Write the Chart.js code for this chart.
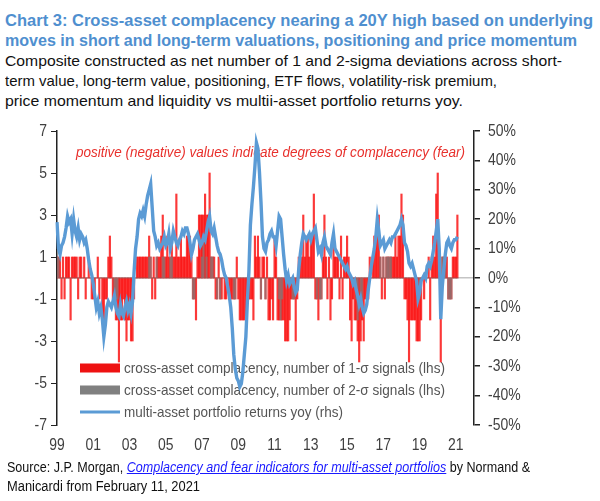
<!DOCTYPE html>
<html>
<head>
<meta charset="utf-8">
<script src="https://cdn.jsdelivr.net/npm/chart.js@4.4.0/dist/chart.umd.min.js"></script>
<style>
  body { margin: 0; background: #fff; width: 600px; height: 501px; overflow: hidden; position: relative;
         font-family: "Liberation Sans", Arial, sans-serif; }
  .ln { position: absolute; left: 5px; white-space: nowrap; transform-origin: 0 50%; }
  .t { color: #4f8fcf; font-weight: bold; font-size: 16px; line-height: 20px; }
  .s { color: #111; font-size: 15px; line-height: 20px; }
  .f { color: #111; font-size: 14px; line-height: 19px; left: 7px; }
  .f a { color: #1a1aff; font-style: italic; text-decoration: underline; }
  #wrap { position: absolute; left: 0; top: 120px; width: 600px; height: 340px; }
</style>
</head>
<body>
<div class="ln t" style="top:11px" data-w="588">Chart 3: Cross-asset complacency nearing a 20Y high based on underlying</div>
<div class="ln t" style="top:31px" data-w="572">moves in short and long-term valuations, positioning and price momentum</div>
<div class="ln s" style="top:51px" data-w="557">Composite constructed as net number of 1 and 2-sigma deviations across short-</div>
<div class="ln s" style="top:71px" data-w="492">term value, long-term value, positioning, ETF flows, volatility-risk premium,</div>
<div class="ln s" style="top:91px" data-w="458">price momentum and liquidity vs multii-asset portfolio returns yoy.</div>
<div id="wrap"><canvas id="c" width="600" height="340"></canvas></div>
<div class="ln f" style="top:458px" data-w="523">Source: J.P. Morgan, <a>Complacency and fear indicators for multi-asset portfolios</a> by Normand &amp;</div>
<div class="ln f" style="top:477px" data-w="193">Manicardi from February 11, 2021</div>
<script>
// monthly axis, Jan 1999 .. Jan 2022
const months = [];
for (let y = 1999; y <= 2022; y++) {
  for (let m = 1; m <= 12; m++) {
    if (y === 2022 && m > 1) break;
    months.push(y + '-' + String(m).padStart(2, '0'));
  }
}
const tickYears = ['1999', '2001', '2003', '2005', '2007', '2009', '2011', '2013', '2015', '2017', '2019', '2021'];
const lhsTicks = [-7, -5, -3, -1, 1, 3, 5, 7];
const rhsTicks = [-50, -40, -30, -20, -10, 0, 10, 20, 30, 40, 50];

// number of 1-sigma signals (lhs), monthly from Jan 1999
const sigma1 = [
  1, 1, 1, -1, 1, -1, 1, 1, 1, -2, 1, 1,        // 1999
  1, 1, -1, 1, 1, 0, 1, -1, 0, 1, 0, -1,        // 2000
  -1, -1, 0, 1, -1, 0, -2, -2, -1, -1, 1, 2,    // 2001
  1, -1, -1, -2, -2, -4, -2, -2, -1, -2, -3, -2, // 2002
  -2, -3, -3, -1, 0, 1, 1, 1, 1, 1, 1, 1,       // 2003
  1, 2, 1, -1, 1, -1, 1, 1, 1, 2, 3, 1,         // 2004
  1, 2, 1, 1, 2, 1, 1, 4, 1, 1, 2, 1,           // 2005
  1, 1, 2, 2, 2, 1, -1, -1, -2, 1, 3, 3,        // 2006
  3, 3, 4, 3, 3, 5, 1, 1, 1, -1, -1, 1,         // 2007
  -1, -1, 0, -1, -1, 0, -1, -1, -1, -1, -1, 1,  // 2008
  -1, -2, -2, -2, -2, -2, -1, -1, -1, -1, -2, 2, // 2009
  1, 2, 1, -1, 1, 1, -1, 1, -2, -2, -1, -2,     // 2010
  2, 1, -2, -2, -2, -2, -2, -3, -3, -3, -2, -1, // 2011
  -1, -1, -3, -1, 1, 1, 1, 3, 1, 2, 2, 1,       // 2012
  2, 2, 4, -1, -1, -2, -1, -1, 1, 3, 1, -1,     // 2013
  1, -2, -1, 2, 1, 1, 1, -1, 2, -1, 1, 1,       // 2014
  2, 1, -2, -3, -1, -2, -2, -3, -4, -3, -2, -3, // 2015
  -1, -1, -1, 1, 0, 1, 2, 2, 2, 3, 1, -1,       // 2016
  1, -1, 1, 1, 1, 1, 1, 1, 2, 1, 2, 2,          // 2017
  4, 3, -1, -1, -2, -4, -2, -2, -2, -2, -3, -3, // 2018
  -3, -2, 0, -1, 0, 0, 1, -2, 1, 2, 1, 4,       // 2019
  5, 1, -4, 1, 1, 1, 1, -1, -1, -1, 1, 1,       // 2020
  1, 3                                          // 2021
];

// number of 2-sigma signals (lhs)
const sigma2 = [
  1, 1, 0, 0, 0, 0, 0, 0, 0, 0, 0, 0,           // 1999
  0, 0, 0, 0, 0, 0, 0, 0, 0, 0, 0, 0,           // 2000
  0, 0, 0, 0, 0, 0, 0, 0, 0, 0, 0, 0,           // 2001
  0, 0, -1, -1, -1, 0, 0, 0, 0, 0, 0, 0,        // 2002
  0, 0, 0, 0, 0, 0, 0, 0, 0, 0, 0, 0,           // 2003
  0, 1, 1, 0, 0, 0, 1, 0, 0, 0, 1, 1,           // 2004
  0, 0, 0, 1, 1, 0, 0, 0, 0, 0, 0, 0,           // 2005
  0, 0, 0, 0, 0, 0, -1, -1, 0, 0, 0, 0,         // 2006
  1, 2, 0, 1, 0, 0, 1, 1, 0, 0, -1, 0,          // 2007
  -1, 0, 0, 0, 0, 0, 0, 0, 0, -1, -1, 0,        // 2008
  0, 0, 0, 0, 0, 0, 0, 0, 0, 0, 0, 0,           // 2009
  0, 0, 0, -1, 0, 0, -1, 0, 0, 0, 0, 0,         // 2010
  0, 0, 0, -1, -2, -1, 0, 0, 0, 0, 0, 0,        // 2011
  -1, -1, 0, 0, 0, 0, 0, 0, 0, 0, 0, 0,         // 2012
  0, 0, 0, 0, -1, 0, -1, -1, 0, 0, 0, 0,        // 2013
  0, 0, 0, 0, 0, 0, 0, 0, 0, 0, 0, 0,           // 2014
  0, 0, 0, 0, 0, 0, -1, -2, 0, -1, -1, 0,       // 2015
  0, 0, 0, 0, 0, 0, 0, 0, 0, 0, 1, 0,           // 2016
  1, 0, 1, 1, 1, 1, 0, 0, 0, 0, 0, 0,           // 2017
  0, 0, 0, 0, 0, 0, 0, 0, 0, 0, 0, 0,           // 2018
  -1, 0, 0, 0, 0, 0, 0, 0, 0, 0, 0, 0,          // 2019
  0, 0, 0, 1, 1, 1, 0, -1, -1, -1, 0, 0,        // 2020
  0, 0                                          // 2021
];

// multi-asset portfolio returns yoy, % (rhs)
const portRet = [
  19, 10, 8, 11, 12, 14, 17, 21, 19, 20, 15, 20,          // 1999
  16, 14, 17, 13, 15, 14, 12, 13, 10, 6, 3, 1,            // 2000
  -2, -6, -10, -8, -12, -10, -14, -20, -16, -10, -8, -9,  // 2001
  -10, -8, -6, -10, -12, -13, -9, -12, -13, -10, -8, -11, // 2002
  -9, -12, -8, 2, 10, 14, 20, 22, 21, 23, 21, 25,         // 2003
  28, 30, 32, 24, 16, 14, 11, 12, 10, 11, 12, 14,         // 2004
  11, 12, 15, 10, 12, 16, 14, 12, 11, 13, 14, 16,         // 2005
  15, 17, 17, 15, 12, 8, 10, 13, 14, 15, 13, 11,          // 2006
  12, 14, 13, 16, 19, 21, 16, 15, 17, 14, 11, 9,          // 2007
  8, 6, 3, 1, 0, -3, -6, -10, -17, -26, -31, -34,         // 2008
  -35, -37, -36, -32, -26, -20, -8, 2, 18, 25, 31, 38,    // 2009
  46, 44, 36, 26, 14, 10, 9, 12, 13, 15, 16, 14,          // 2010
  14, 11, 16, 21, 20, 14, 8, 3, -1, 1, -2, -1,            // 2011
  0, -3, -5, -4, 3, 8, 12, 15, 14, 13, 14, 15,            // 2012
  13, 15, 16, 17, 13, 9, 10, 8, 12, 14, 11, 10,           // 2013
  9, 8, 12, 15, 10, 9, 8, 7, 6, 5, 4, 3,                  // 2014
  4, 2, 1, 0, -2, -1, -4, -6, -9, -7, -10, -12,           // 2015
  -11, -9, -4, 0, 4, 7, 10, 14, 20, 16, 11, 12,           // 2016
  13, 10, 11, 12, 13, 12, 14, 14, 15, 16, 17, 18,         // 2017
  20, 18, 12, 11, 9, 5, 4, 5, 3, 1, -1, -7,               // 2018
  -5, -1, 0, 1, 0, 4, 5, 4, 6, 9, 12, 16,                 // 2019
  20, 10, -14, -3, 3, 8, 12, 13, 11, 10, 12, 13,          // 2020
  13, 14                                                  // 2021
];

const red = 'rgba(250,0,0,0.78)';
const grey = 'rgba(125,125,125,0.65)';
const blue = '#5b9bd5';
const tickCol = '#404040';
const axisCol = '#222';
const FONT = '"Liberation Sans", Arial, sans-serif';
const NARROW = 0.82; // no Arial Narrow installed: squeeze regular glyphs

// squeeze HTML text lines to their widths in the original
document.querySelectorAll('.ln').forEach(el => {
  const w = el.getBoundingClientRect().width;
  el.style.transform = 'scaleX(' + (el.dataset.w / w) + ')';
});

Chart.defaults.font.family = FONT;

function narrowText(ctx, text, x, y, align, targetW) {
  const w = ctx.measureText(text).width;
  const k = targetW ? targetW / w : NARROW;
  ctx.save();
  ctx.translate(x, y);
  ctx.scale(k, 1);
  let dx = 0;
  if (align === 'right') dx = -w;
  else if (align === 'center') dx = -w / 2;
  ctx.textAlign = 'left';
  ctx.fillText(text, dx, 0);
  ctx.restore();
}

// in-plot legend and note, drawn under the series
const overlay = {
  id: 'overlay',
  beforeDatasetsDraw(chart) {
    const { ctx, chartArea: a } = chart;
    ctx.save();
    ctx.textBaseline = 'middle';
    ctx.font = 'italic 15px ' + FONT;
    ctx.fillStyle = '#e8302c';
    narrowText(ctx, 'positive (negative) values indicate degrees of complacency (fear)', a.left + 19, a.top + 22, 'left', 389);

    const items = [
      { t: 'cross-asset complacency, number of 1-\u03c3 signals (lhs)', c: '#ee1111', k: 'box', w: 321 },
      { t: 'cross-asset complacency, number of 2-\u03c3 signals (lhs)', c: '#808080', k: 'box', w: 321 },
      { t: 'multi-asset portfolio returns yoy (rhs)', c: blue, k: 'line', w: 219 }
    ];
    ctx.font = '15px ' + FONT;
    items.forEach((it, i) => {
      const y = a.bottom - 57 + i * 22;
      const x = a.left + 23;
      if (it.k === 'box') {
        ctx.fillStyle = it.c;
        ctx.fillRect(x, y - 4.5, 40, 9);
      } else {
        ctx.strokeStyle = it.c;
        ctx.lineWidth = 3;
        ctx.beginPath(); ctx.moveTo(x, y); ctx.lineTo(x + 40, y); ctx.stroke();
      }
      ctx.fillStyle = '#555';
      narrowText(ctx, it.t, x + 44, y + 1, 'left', it.w);
    });
    ctx.restore();
  },
  // tick labels in a narrow face, placed from the library's scales
  afterDraw(chart) {
    const { ctx, scales } = chart;
    ctx.save();
    ctx.font = '17px ' + FONT;
    ctx.fillStyle = tickCol;
    ctx.textBaseline = 'middle';
    scales.y.ticks.forEach(t => narrowText(ctx, String(t.value), scales.y.right - 10, scales.y.getPixelForValue(t.value), 'right'));
    scales.y2.ticks.forEach(t => narrowText(ctx, t.value + '%', scales.y2.left + 14, scales.y2.getPixelForValue(t.value), 'left'));
    months.forEach((m, i) => {
      if (m.endsWith('-01') && tickYears.includes(m.slice(0, 4))) {
        narrowText(ctx, m.slice(2, 4), scales.x.getPixelForValue(i), scales.x.top + 20, 'center');
      }
    });
    ctx.restore();
  }
};

new Chart(document.getElementById('c'), {
  type: 'bar',
  data: {
    labels: months,
    datasets: [
      {
        type: 'line', label: 'multi-asset portfolio returns yoy (rhs)', data: portRet, yAxisID: 'y2',
        borderColor: blue, borderWidth: 3.4, pointRadius: 0, tension: 0, order: 0
      },
      {
        label: 'cross-asset complacency, number of 2-\u03c3 signals (lhs)', data: sigma2, yAxisID: 'y',
        backgroundColor: grey, barPercentage: 1, categoryPercentage: 1, order: 1
      },
      {
        label: 'cross-asset complacency, number of 1-\u03c3 signals (lhs)', data: sigma1, yAxisID: 'y',
        backgroundColor: red, barPercentage: 1, categoryPercentage: 1, order: 2
      }
    ]
  },
  options: {
    responsive: false,
    animation: false,
    layout: { padding: { top: 11, left: 0, right: 0, bottom: 0 } },
    plugins: { legend: { display: false }, tooltip: { enabled: false } },
    datasets: { bar: { grouped: false } },
    scales: {
      x: {
        offset: false,
        grid: { display: false, drawTicks: false },
        border: { display: false },
        ticks: { display: false },
        afterFit: s => { s.height = 35; }
      },
      y: {
        position: 'left', min: -7, max: 7,
        afterBuildTicks: s => { s.ticks = lhsTicks.map(v => ({ value: v })); },
        grid: { color: 'transparent', tickColor: axisCol, tickLength: 6 },
        border: { display: true, color: axisCol, width: 1.5 },
        ticks: { color: 'transparent' },
        afterFit: s => { s.width = 57; }
      },
      y2: {
        position: 'right', min: -50, max: 50,
        afterBuildTicks: s => { s.ticks = rhsTicks.map(v => ({ value: v })); },
        ticks: { color: 'transparent' },
        grid: {
          color: c => (c.tick && c.tick.value === 0) ? '#c4c4c4' : 'transparent',
          lineWidth: 1.5, tickColor: axisCol, tickLength: 6
        },
        border: { display: true, color: axisCol, width: 1.5 },
        afterFit: s => { s.width = 126; }
      }
    }
  },
  plugins: [overlay]
});
</script>
</body>
</html>
